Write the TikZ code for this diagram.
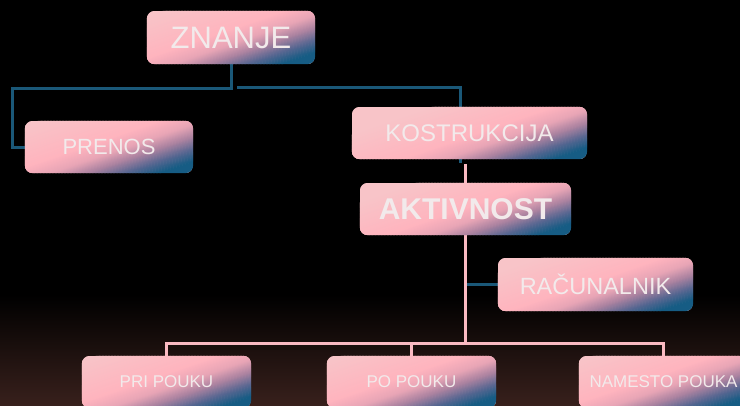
\documentclass[tikz,border=0pt]{standalone}
\usepackage{fontspec}
\setmainfont{Liberation Sans}
\usetikzlibrary{calc}

\definecolor{bgbottom}{RGB}{56,32,28}
\definecolor{lnblue}{RGB}{26,88,120}
\definecolor{lnpink}{RGB}{250,186,194}
\definecolor{txtwhite}{RGB}{242,234,235}
\definecolor{gLight}{RGB}{248,196,200}
\definecolor{gPink}{RGB}{255,180,190}
\definecolor{gPinkB}{RGB}{232,165,182}
\definecolor{gMauve}{RGB}{170,130,160}
\definecolor{gSlate}{RGB}{86,102,145}
\definecolor{gBlue}{RGB}{22,92,132}

% strip of node #1 between positions #2 and #3 on the gradient axis,
% which runs from the lower right corner up and to the left; colour #4
\newcommand\gquad[4]{%
  \pgfmathsetmacro\gqXa{0.3256*(#2)-0.9455*300}%
  \pgfmathsetmacro\gqYa{-0.9455*(#2)-0.3256*300}%
  \pgfmathsetmacro\gqXb{0.3256*(#3)-0.9455*300}%
  \pgfmathsetmacro\gqYb{-0.9455*(#3)-0.3256*300}%
  \pgfmathsetmacro\gqXc{0.3256*(#3)+0.9455*300}%
  \pgfmathsetmacro\gqYc{-0.9455*(#3)+0.3256*300}%
  \pgfmathsetmacro\gqXd{0.3256*(#2)+0.9455*300}%
  \pgfmathsetmacro\gqYd{-0.9455*(#2)+0.3256*300}%
  \fill[#4] ($(#1.south east)+(\gqXa pt,\gqYa pt)$)
    -- ($(#1.south east)+(\gqXb pt,\gqYb pt)$)
    -- ($(#1.south east)+(\gqXc pt,\gqYc pt)$)
    -- ($(#1.south east)+(\gqXd pt,\gqYd pt)$) -- cycle;}

% blend from colour #4 at #2 to colour #5 at #3 in 1pt strips
\newcommand\gband[5]{%
  \pgfmathtruncatemacro\gbN{#3-(#2)}%
  \foreach \k in {1,...,\gbN}{%
    \pgfmathsetmacro\gbA{#2+\k-1}%
    \pgfmathsetmacro\gbB{#2+\k+0.4}%
    \pgfmathsetmacro\gbT{100*(\k-0.5)/\gbN}%
    \gquad{#1}{\gbA}{\gbB}{#5!\gbT!#4}%
  }}

% rounded pink box with the blue corner behind node #1
\newcommand\gradbox[1]{%
  \begin{scope}
    \clip[rounded corners=8pt] (#1.south west) rectangle (#1.north east);
    \fill[gLight] (#1.south west) rectangle (#1.north east);
    \gband{#1}{-100}{-60}{gLight}{gPink}
    \gband{#1}{-60}{-46}{gPink}{gPinkB}
    \gband{#1}{-46}{-34}{gPinkB}{gMauve}
    \gband{#1}{-34}{-22}{gMauve}{gSlate}
    \gband{#1}{-22}{-11}{gSlate}{gBlue}
    \gquad{#1}{-11}{300}{gBlue}
  \end{scope}}

\pgfdeclarelayer{bg}
\pgfdeclarelayer{lines}
\pgfdeclarelayer{boxes}
\pgfsetlayers{bg,lines,boxes,main}

\tikzset{
  box/.style={text=txtwhite, inner sep=0pt, anchor=center},
  blueline/.style={draw=lnblue, line width=3pt},
  pinkline/.style={draw=lnpink, line width=3pt},
}

\begin{document}
\begin{tikzpicture}[x=1pt, y=-1pt]
\useasboundingbox (0,0) rectangle (740,405);

\begin{pgfonlayer}{bg}
  \fill[black] (0,0) rectangle (740,405);
  \shade[top color=black, bottom color=bgbottom] (0,295) rectangle (740,405);
\end{pgfonlayer}

% boxes
\node[box, minimum width=168pt, minimum height=53pt, font=\fontsize{31}{34}\selectfont]
  (znanje) at (231,37.5) {ZNANJE};
\node[box, minimum width=168pt, minimum height=52pt, font=\fontsize{22}{26}\selectfont]
  (prenos) at (109,147) {PRENOS};
\node[box, minimum width=235pt, minimum height=52pt, font=\fontsize{24}{28}\selectfont]
  (kostr) at (469.5,133) {KOSTRUKCIJA};
\node[box, minimum width=211pt, minimum height=52pt, font=\fontsize{30}{34}\selectfont\bfseries]
  (aktiv) at (465.5,209) {AKTIVNOST};
\node[box, minimum width=195pt, minimum height=53pt, font=\fontsize{23.5}{27}\selectfont]
  (racun) at (595.5,284.5) {RAČUNALNIK};
\node[box, minimum width=169pt, minimum height=52pt, font=\fontsize{17}{20}\selectfont]
  (pri) at (166.5,382) {PRI POUKU};
\node[box, minimum width=169pt, minimum height=52pt, font=\fontsize{17}{20}\selectfont]
  (po) at (411.5,382) {PO POUKU};
\node[box, minimum width=169pt, minimum height=52pt, font=\fontsize{17}{20}\selectfont]
  (namesto) at (663.5,382) {NAMESTO POUKA};

\begin{pgfonlayer}{boxes}
  \foreach \b in {znanje,prenos,kostr,aktiv,racun,pri,po,namesto}{\gradbox{\b}}
\end{pgfonlayer}

% junction points of the connectors
\coordinate (k0) at (237,87);
\coordinate (kbot) at (460,163);
\coordinate (ktop) at (465,164);
\coordinate (hub) at (465,343);

\begin{pgfonlayer}{lines}
  \draw[blueline] (znanje.south) |- (12,88) |- (prenos.west);
  \draw[blueline] (k0) -| (kbot);
  \draw[blueline] (racun.west -| hub) -- (racun.west);
  \draw[pinkline] (ktop) -- (ktop |- aktiv.north);
  \draw[pinkline] (aktiv.south -| hub) -- (hub);
  \draw[pinkline] (pri.north) -- (pri.north |- hub) -- (namesto.north |- hub) -- (namesto.north);
  \draw[pinkline] (po.north) -- (po.north |- hub);
\end{pgfonlayer}
\end{tikzpicture}
\end{document}
